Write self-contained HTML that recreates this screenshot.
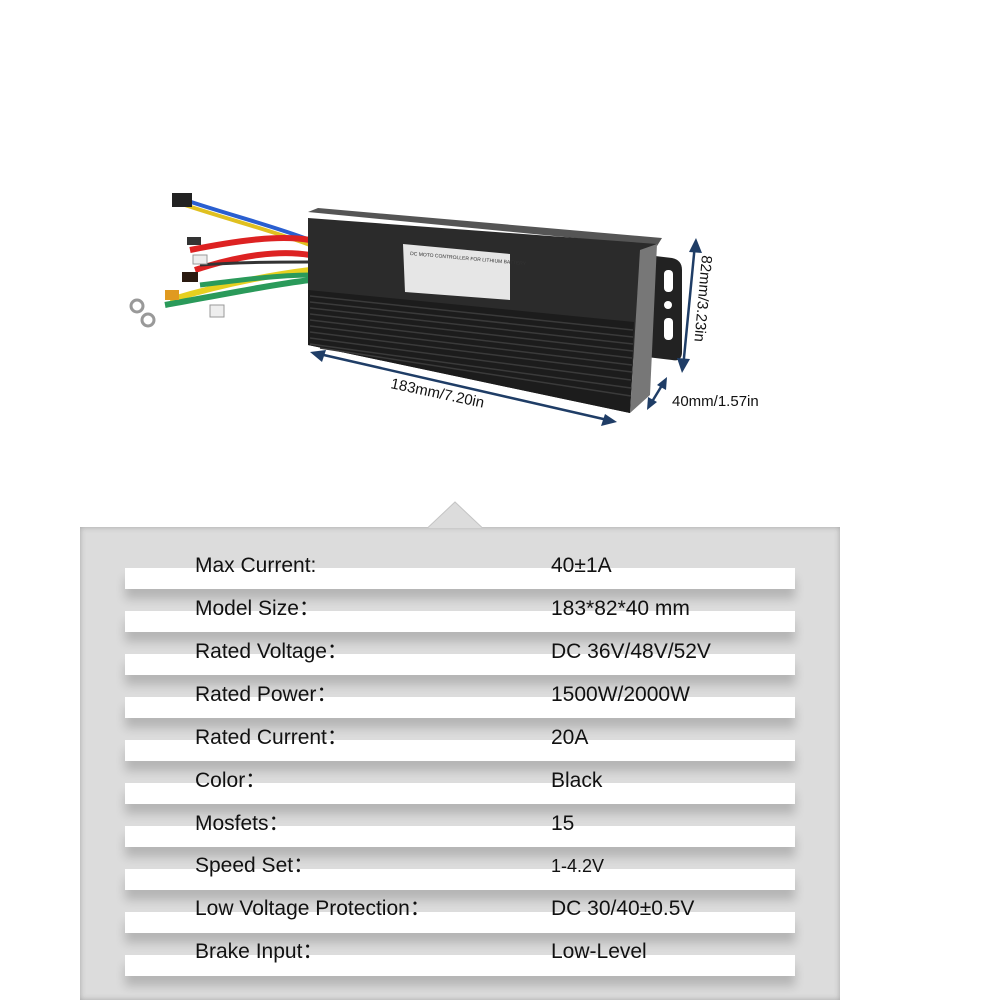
<!DOCTYPE html>
<html><head><meta charset="utf-8"><style>
body{margin:0;width:1000px;height:1000px;background:#fff;position:relative;overflow:hidden;font-family:"Liberation Sans","Noto Sans CJK SC",sans-serif}
.panel{position:absolute;left:80px;top:527px;width:760px;height:473px;background:#dcdcdc;box-shadow:inset 0 0 6px rgba(0,0,0,.25)}
.bar{position:absolute;left:125px;width:670px;height:21px;background:#fff;box-shadow:0 10px 10px rgba(0,0,0,.18)}
.t{position:absolute;font-size:21px;color:#111;line-height:24px;white-space:nowrap}
</style></head><body>
<svg width="1000" height="520" style="position:absolute;left:0;top:0">
<!-- notch -->
<!-- wires -->
<g fill="none" stroke-width="4">
<path d="M185 200 C230 215 270 225 310 240" stroke="#2a5fd0"/>
<path d="M185 205 C230 220 270 230 310 245" stroke="#e0c020"/>
<path d="M190 250 C240 240 280 235 310 240" stroke="#d22" stroke-width="6"/>
<path d="M195 270 C240 255 280 250 310 255" stroke="#d22" stroke-width="6"/>
<path d="M170 300 C220 285 270 275 310 270" stroke="#e6d020" stroke-width="6"/>
<path d="M165 305 C220 295 270 285 310 280" stroke="#2a9a5a" stroke-width="6"/>
<path d="M200 285 C240 280 280 275 310 275" stroke="#2a9a5a" stroke-width="5"/>
<path d="M200 265 C240 262 280 262 310 262" stroke="#333" stroke-width="3"/>
</g>
<rect x="172" y="193" width="20" height="14" fill="#222"/>
<rect x="187" y="237" width="14" height="8" fill="#333"/>
<rect x="193" y="255" width="14" height="9" fill="#eee" stroke="#999"/>
<rect x="182" y="272" width="16" height="10" fill="#2a1a10"/>
<rect x="165" y="290" width="14" height="10" fill="#e09a20"/>
<rect x="210" y="305" width="14" height="12" fill="#eee" stroke="#999"/>
<circle cx="137" cy="306" r="6" fill="none" stroke="#999" stroke-width="3"/>
<circle cx="148" cy="320" r="6" fill="none" stroke="#999" stroke-width="3"/>
<!-- bracket -->
<path d="M630 253 L672 258 Q682 260 682 270 L682 352 Q682 362 672 360 L630 355 Z" fill="#222"/>
<rect x="664" y="270" width="9" height="22" rx="4" fill="#fff"/>
<circle cx="668" cy="305" r="4" fill="#fff"/>
<rect x="664" y="318" width="9" height="22" rx="4" fill="#fff"/>
<!-- box -->
<polygon points="308,212 318,208 662,238 657,246" fill="#555"/>
<polygon points="308,218 657,244 640,255 630,413 308,345" fill="#2b2b2b"/>
<polygon points="640,250 657,244 650,395 630,413" fill="#777"/>
<polygon points="308,290 634,322 630,413 308,345" fill="#1c1c1c"/>
<g stroke="#3a3a3a" stroke-width="1.5">
<line x1="310" y1="296" x2="633" y2="330"/><line x1="310" y1="302" x2="633" y2="337"/>
<line x1="310" y1="308" x2="633" y2="344"/><line x1="310" y1="314" x2="633" y2="351"/>
<line x1="310" y1="320" x2="632" y2="358"/><line x1="310" y1="326" x2="632" y2="365"/>
<line x1="310" y1="332" x2="632" y2="372"/><line x1="310" y1="338" x2="631" y2="380"/>
<line x1="310" y1="344" x2="631" y2="388"/><line x1="320" y1="348" x2="631" y2="396"/>
</g>
<polygon points="403,244 510,254 510,300 405,292" fill="#e6e6e6"/>
<text x="410" y="255" font-size="5" fill="#333" transform="rotate(5 410 255)">DC MOTO CONTROLLER FOR LITHIUM BATTERY</text>
<!-- arrows -->
<g stroke="#1f3d66" stroke-width="2.5" fill="#1f3d66">
<line x1="315" y1="353" x2="612" y2="421"/>
<polygon points="310,352 326,350 322,362" stroke="none"/>
<polygon points="617,422 601,426 605,414" stroke="none"/>
<line x1="695" y1="244" x2="683" y2="368"/>
<polygon points="696,238 702,253 689,252" stroke="none"/>
<polygon points="682,373 677,358 690,359" stroke="none"/>
<line x1="650" y1="405" x2="664" y2="382"/>
<polygon points="647,410 648,397 657,402" stroke="none"/>
<polygon points="667,377 666,390 657,385" stroke="none"/>
</g>
<text x="390" y="388" font-size="15" fill="#111" transform="rotate(12 390 388)">183mm/7.20in</text>
<text x="702" y="255" font-size="15" fill="#111" transform="rotate(95 702 255)">82mm/3.23in</text>
<text x="672" y="406" font-size="15" fill="#111">40mm/1.57in</text>
</svg>
<div class="panel"></div>
<svg width="1000" height="40" style="position:absolute;left:0;top:500px">
<polygon points="428,28 455,2 482,28" fill="#dcdcdc"/>
<polyline points="428,27.5 455,2 482,27.5" fill="none" stroke="#c4c4c4" stroke-width="1"/>
</svg>
<div class="bar" style="top:568px"></div>
<div class="bar" style="top:611px"></div>
<div class="bar" style="top:654px"></div>
<div class="bar" style="top:697px"></div>
<div class="bar" style="top:740px"></div>
<div class="bar" style="top:783px"></div>
<div class="bar" style="top:826px"></div>
<div class="bar" style="top:869px"></div>
<div class="bar" style="top:912px"></div>
<div class="bar" style="top:955px"></div>
<div class="t" style="left:195px;top:554px">Max Current:</div><div class="t" style="left:551px;top:554px">40±1A</div>
<div class="t" style="left:195px;top:597px">Model Size：</div><div class="t" style="left:551px;top:597px">183*82*40 mm</div>
<div class="t" style="left:195px;top:640px">Rated Voltage：</div><div class="t" style="left:551px;top:640px">DC 36V/48V/52V</div>
<div class="t" style="left:195px;top:683px">Rated Power：</div><div class="t" style="left:551px;top:683px">1500W/2000W</div>
<div class="t" style="left:195px;top:726px">Rated Current：</div><div class="t" style="left:551px;top:726px">20A</div>
<div class="t" style="left:195px;top:769px">Color：</div><div class="t" style="left:551px;top:769px">Black</div>
<div class="t" style="left:195px;top:812px">Mosfets：</div><div class="t" style="left:551px;top:812px">15</div>
<div class="t" style="left:195px;top:854px">Speed Set：</div><div class="t" style="left:551px;top:854px;font-size:18px">1-4.2V</div>
<div class="t" style="left:195px;top:897px">Low Voltage Protection：</div><div class="t" style="left:551px;top:897px">DC 30/40±0.5V</div>
<div class="t" style="left:195px;top:940px">Brake Input：</div><div class="t" style="left:551px;top:940px">Low-Level</div>
</body></html>
